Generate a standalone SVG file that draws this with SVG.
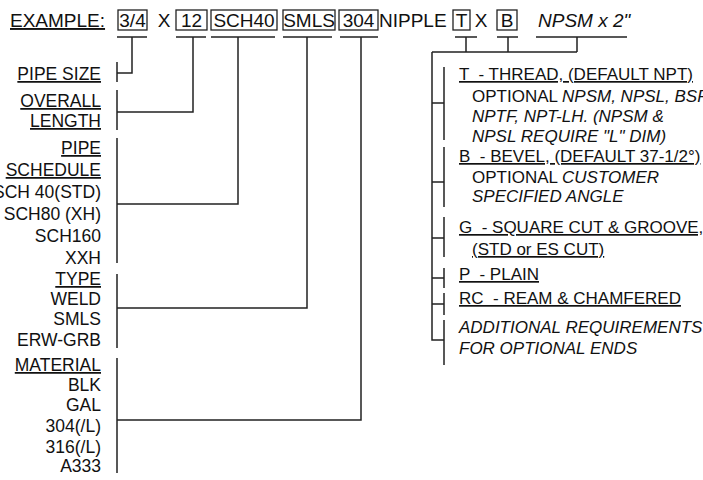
<svg xmlns="http://www.w3.org/2000/svg" width="703" height="480" viewBox="0 0 703 480">
<style>
text{font-family:"Liberation Sans",Arial,sans-serif;fill:#111;white-space:pre}
.top{font-size:19px}
.l{font-size:17.5px;text-anchor:end}
.r{font-size:17px}
.u{text-decoration:underline}
.i{font-style:italic}
.c{text-anchor:middle}
.ln{stroke:#222;stroke-width:1.5;fill:none}
.box{stroke:#222;stroke-width:1.3;fill:none}
</style>
<rect width="703" height="480" fill="#fff"/>
<g id="header">
<text class="top u" x="10" y="27">EXAMPLE:</text>
<rect class="box" x="118" y="10" width="29" height="20"/><text class="top c" x="132.5" y="27">3/4</text>
<text class="top c" x="164" y="27">X</text>
<rect class="box" x="176" y="10" width="31" height="20"/><text class="top c" x="191.5" y="27">12</text>
<rect class="box" x="211" y="10" width="66" height="20"/><text class="top c" x="244" y="27">SCH40</text>
<rect class="box" x="283" y="10" width="52" height="20"/><text class="top c" x="309" y="27">SMLS</text>
<rect class="box" x="339" y="10" width="39" height="20"/><text class="top c" x="358.5" y="27">304</text>
<text class="top" x="379" y="27">NIPPLE</text>
<rect class="box" x="453" y="10" width="17" height="20"/><text class="top c" x="461.5" y="27">T</text>
<text class="top c" x="481" y="27">X</text>
<rect class="box" x="497" y="10" width="20" height="20"/><text class="top c" x="507" y="27">B</text>
<text class="top i" x="538" y="27">NPSM x 2"</text>
</g>
<g id="pipe-size"><text class="l u" x="101" y="80">PIPE SIZE</text></g>
<g id="overall-length"><text class="l u" x="101" y="107">OVERALL</text><text class="l u" x="101" y="127">LENGTH</text></g>
<g id="pipe-schedule"><text class="l u" x="101" y="154">PIPE</text><text class="l u" x="101" y="176">SCHEDULE</text>
<text class="l" x="101" y="198">SCH 40(STD)</text><text class="l" x="101" y="220">SCH80 (XH)</text><text class="l" x="101" y="242">SCH160</text><text class="l" x="101" y="264">XXH</text></g>
<g id="type"><text class="l u" x="101" y="285">TYPE</text><text class="l" x="101" y="305">WELD</text><text class="l" x="101" y="325">SMLS</text><text class="l" x="101" y="346">ERW-GRB</text></g>
<g id="material"><text class="l u" x="101" y="371">MATERIAL</text><text class="l" x="101" y="391">BLK</text><text class="l" x="101" y="411">GAL</text><text class="l" x="101" y="432">304(/L)</text><text class="l" x="101" y="453">316(/L)</text><text class="l" x="101" y="472">A333</text></g>
<g id="end-thread">
<text class="r u" x="459" y="80">T  - THREAD, (DEFAULT NPT)</text>
<text class="r" x="472" y="102">OPTIONAL <tspan class="i">NPSM, NPSL, BSP</tspan></text>
<text class="r i" x="472" y="122">NPTF, NPT-LH. (NPSM &amp;</text>
<text class="r i" x="472" y="142">NPSL REQUIRE "L" DIM)</text>
</g>
<g id="end-bevel">
<text class="r u" x="459" y="162">B  - BEVEL, (DEFAULT 37-1/2°)</text>
<text class="r" x="472" y="183">OPTIONAL <tspan class="i">CUSTOMER</tspan></text>
<text class="r i" x="472" y="202">SPECIFIED ANGLE</text>
</g>
<g id="end-groove">
<text class="r u" x="459" y="233">G  - SQUARE CUT &amp; GROOVE,</text>
<text class="r u" x="472" y="255">(STD or ES CUT)</text>
</g>
<g id="end-plain"><text class="r u" x="459" y="280">P  - PLAIN</text></g>
<g id="end-ream"><text class="r u" x="459" y="304">RC  - REAM &amp; CHAMFERED</text></g>
<g id="end-additional">
<text class="r i" x="459" y="333">ADDITIONAL REQUIREMENTS</text>
<text class="r i" x="459" y="354">FOR OPTIONAL ENDS</text>
</g>
<g id="connectors" class="ln">
<path d="M117 37H147M176 37H206M211 37H275M283 37H332M340 37H378M455 37H477M497 37H518M536 37H627"/>
<path d="M132 37V73H117M193 37V112H117M238 37V204H117M307 37V308H117M361 37V420H117"/>
<path d="M117 62V82M117 90V130M117 138V263M117 274V348M117 358V473"/>
<path d="M466 37V52M508 37V52M577 37V52M432 52H577M432 52V340H444"/>
<path d="M432 103H444M432 182H444M432 238H444M432 278H444M432 304H444"/>
<path d="M444 67V140M444 147V207M444 217V257M444 268V288M444 293V315M444 320V365"/>
</g>
</svg>
